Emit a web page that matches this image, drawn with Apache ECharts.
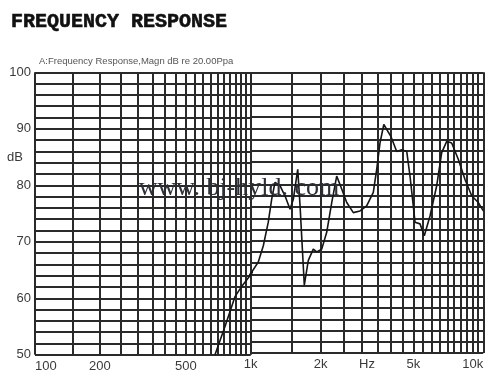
<!DOCTYPE html>
<html>
<head>
<meta charset="utf-8">
<script src="https://cdn.jsdelivr.net/npm/echarts@6/dist/echarts.min.js"></script>
<style>
html,body{margin:0;padding:0;background:#fff;}
#chart{width:500px;height:376px;}
</style>
</head>
<body>
<div id="chart"></div>
<script>
// ---- data ----
const freqHz = [683,760,846,908,1010,1078,1133,1190,1231,1272,1336,1404,1476,1525,1593,1630,1700,1769,1858,1922,2020,2122,2230,2343,2462,2587,2762,2951,3152,3366,3481,3596,3735,4003,4244,4460,4686,4841,5000,5086,5345,5576,5900,6305,6624,6962,7313,7806,8344,8916,9517,10000];
const magnitudeDb = [50,55.0,60.3,62.1,64.4,66.2,69.1,73.3,77.4,80.4,79.8,78.0,75.6,77.4,82.7,76.2,62.1,66.5,68.5,68.0,68.5,71.5,76.8,81.5,79.2,76.8,75.0,75.3,76.2,78.6,82.7,87.4,90.7,88.6,85.9,86.2,85.9,81.5,76.2,73.3,73.0,70.9,74.4,79.8,85.7,87.7,87.4,84.5,80.9,78.0,76.8,75.3];

const lowGridHz = [100,150,200,250,300,350,400,450,500,550,600,650,700,750,800,850,900,950,1000];
const highGridHz = [1000,1500,2000,2500,3000,3500,4000,4500,5000,5500,6000,6500,7000,7500,8000,8500,9000,9500,10000];
const lowLabelHz = [100,200,500];
const highLabelHz = [1000,2000,5000,10000];
const yLabelDb = [50,60,70,80,90,100];

const titleText = 'FREQUENCY RESPONSE';
const subTitleText = 'A:Frequency Response,Magn dB re 20.00Ppa';
const yUnit = 'dB';
const xUnit = 'Hz';
const watermark = 'www. bj-hyld. com';

const pts = freqHz.map((f, i) => [f, magnitudeDb[i]]);

const gridColor = '#2a2a2a';
const labelStyle = {color: '#3a3a3a', fontFamily: 'Liberation Sans, Arial', fontSize: 13};

const chart = echarts.init(document.getElementById('chart'), null, {renderer: 'canvas'});

function fmtHz(v){ return v >= 1000 ? (v/1000) + 'k' : String(v); }

const yCommon = {
  type: 'value', min: 50, max: 100, interval: 2,
  axisLine: {show: false}, axisTick: {show: false},
  splitLine: {show: true, lineStyle: {color: gridColor, width: 2}}
};

chart.setOption({
  animation: false,
  backgroundColor: '#fff',
  title: {
    text: titleText, left: 6, top: 7,
    textStyle: {fontFamily: 'Liberation Mono', fontWeight: 'bold', fontSize: 20, color: '#111',
      textBorderColor: '#111', textBorderWidth: 0.6}
  },
  grid: [
    {left: 35, top: 72.3, width: 215.7, height: 282.5, show: false},
    {left: 250.7, top: 72.3, width: 232.6, height: 282.5, show: false}
  ],
  xAxis: [
    {
      type: 'log', logBase: 10, gridIndex: 0, min: 100, max: 1000,
      axisLine: {show: false},
      axisTick: {show: false, customValues: lowGridHz},
      splitLine: {show: true, lineStyle: {color: gridColor, width: 2}},
      axisLabel: Object.assign({customValues: lowLabelHz, margin: 5, formatter: fmtHz, alignMinLabel: 'left'}, labelStyle)
    },
    {
      type: 'log', logBase: 10, gridIndex: 1, min: 1000, max: 10000,
      axisLine: {show: false},
      axisTick: {show: false, customValues: highGridHz},
      splitLine: {show: true, lineStyle: {color: gridColor, width: 2}},
      axisLabel: Object.assign({customValues: highLabelHz, margin: 5, formatter: fmtHz, alignMinLabel: 'center', alignMaxLabel: 'right'}, labelStyle),
      name: xUnit, nameLocation: 'middle', nameGap: 5, nameMoveOverlap: false,
      nameTextStyle: Object.assign({verticalAlign: 'top'}, labelStyle)
    }
  ],
  yAxis: [
    Object.assign({gridIndex: 0,
      axisLabel: Object.assign({customValues: yLabelDb, margin: 4}, labelStyle)}, yCommon),
    Object.assign({gridIndex: 1, axisLabel: {show: false}}, yCommon)
  ],
  graphic: [
    {type: 'text', left: 39, top: 56, silent: true,
      style: {text: subTitleText, fill: '#555', font: '9.5px "Liberation Sans", Arial'}},
    {type: 'text', x: 15, y: 157, silent: true,
      style: {text: yUnit, fill: '#3a3a3a', font: '13px "Liberation Sans", Arial', align: 'center', verticalAlign: 'middle'}},
    {type: 'text', x: 239, y: 188, z: 100, silent: true,
      style: {text: watermark, fill: '#2a2f38', font: '26px "Liberation Serif", "Times New Roman"', align: 'center', verticalAlign: 'middle'}}
  ],
  series: [
    {type: 'line', xAxisIndex: 0, yAxisIndex: 0, data: pts, showSymbol: false, clip: true,
      lineStyle: {color: '#151515', width: 1.6}, z: 5},
    {type: 'line', xAxisIndex: 1, yAxisIndex: 1, data: pts, showSymbol: false, clip: true,
      lineStyle: {color: '#151515', width: 1.6}, z: 5}
  ]
});
</script>
</body>
</html>
